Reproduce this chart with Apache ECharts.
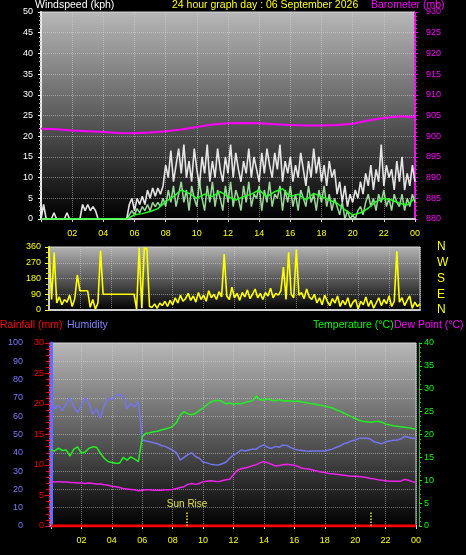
<!DOCTYPE html>
<html><head><meta charset="utf-8">
<script src="https://cdn.jsdelivr.net/npm/echarts@6/dist/echarts.min.js"></script>
<style>html,body{margin:0;padding:0;background:#000;}#c{width:466px;height:555px;}</style>
</head><body><div id="c"></div><script>
// ---- Data ----
const hourLabels = ['', '02','04','06','08','10','12','14','16','18','20','22','00'];
const titleText = '24 hour graph day : 06 September 2026';
// Wind gust (kph), 10-minute samples 00:00..24:00
const windGust = [
 0,3.5,0,0,0,1.5, 0,0,0,0,1.5,0, 0,0,0,0,3.5,2, 3.5,2,3,2,0,0, 0,0,0,0,0,0, 0,0,0,0,
 3.5,5,2,5,3.5,5.5,3.5,7,5,7.5,5.5,7.5,6,8,
 13,10,16.5,9,13,17, 11,18,10,14,9,17, 12,8,15,11,18,9, 14,10,17,12,9,15,
 11,18,10,16,12,9, 14,11,17,10,15,12, 9,16,11,17,13,10, 16,12,18,9,14,11,
 15,9,13,10,16,12, 8,14,10,17,11,15, 9,13,8,14,10,12,
 6,9,4,8,3,6, 4,7,5,9,6,11, 8,13,7,12,9,18, 8,13,10,12,7,14, 9,15,7,11,8,13, 9
];
// Wind speed (kph), 10-minute samples
const windSpeed = [
 0,0,0,0,0,0, 0,0,0,0,0,0, 0,0,0,0,0,0, 0,0,0,0,0,0, 0,0,0,0,0,0, 0,0,0,0,
 1,2,1,2.5,1.5,3,2,3.5,2,4,3,4,3,5,
 3,7,4,8,3,6, 9,4,7,2,8,5, 3,9,5,2,8,4, 9,3,7,5,2,8,
 4,9,3,7,5,2, 8,4,9,3,6,5, 8,2,7,4,9,3, 6,5,8,2,7,4,
 8,3,6,2,7,5, 3,8,4,6,2,7, 4,8,3,6,2,5,
 3,1,4,0,2,0, 1,0,2,3,1,4, 6,3,5,2,6,4, 7,3,5,2,6,4, 3,6,2,5,3,6, 4
];
// Average wind speed (kph), half-hourly
const windAvg = [
 0,0,0,0,0,0,0,0,0,0,0,0,
 1.0,1.3,1.8,2.5,4.2,5.4,7.0,6.2,5,6,5.4,6.6,5.4,4.6,5.4,6,7.0,5.4,6.6,7.3,
 5.4,6,4.6,6.2,5.4,4.6,3.8,2.2,1.0,1.5,2.6,4.2,5,4.6,3.8,3.4,5
];
// Barometer (mb), hourly
const barometer = [901.8,901.7,901.4,901.2,901.0,900.8,900.7,900.9,901.2,901.6,902.2,902.8,903.1,
 903.2,903.1,902.9,902.7,902.6,902.6,902.7,903.0,903.8,904.4,904.8,904.6];
// Wind direction (deg), 10-minute samples
const windDir = [
 355,60,330,40,75,30, 60,45,85,20,65,200, 110,110,110,110,15,60, 5,40,340,90,90,90,
 90,90,90,90,90,90, 90,90,90,90,5,355, 10,355,350,20,15,35, 10,40,25,50,20,55,
 30,70,40,85,50,65, 95,55,80,45,100,60, 85,50,110,70,90,60, 105,75,320,80,60,130,
 70,95,55,100,75,115, 65,90,120,70,95,60, 100,80,125,70,95,85, 110,245,60,330,90,70,
 345,85,100,65,120,75, 60,90,40,70,30,85, 50,25,65,40,80,20, 55,30,70,15,45,60,
 5,50,30,75,20,55, 10,40,70,25,60,35, 80,20,50,335,45,70, 25,55,80,10,45,20, 35
];
const dirLetters = {0:'N', 90:'E', 180:'S', 270:'W', 360:'N'};
// Humidity (%), 15-minute samples
const humidity = [
 69,64,66,63,67,70,65,62,66,70,67,61,64,59,66,70,69,71,72,71,64,67,65,68,
 47,46.5,46,45.5,45,44,43.5,42.5,41.5,40,36,37.5,39,40,38,37,35,34.5,33.8,33.5,33.3,34,34.8,37,
 38.8,40,41.5,41,41.5,42,42,43.5,44.3,43,42.4,43.5,43,44.3,44,43,42,41.5,41.3,41,40.8,41,41,41,
 41,41.5,42,43,43.7,45,45.5,46.5,47,47.9,48,48,47.5,46,45.5,45,46,46.5,46.8,47,47.5,49,48.5,48,48
];
// Temperature (°C), 15-minute samples
const temperature = [
 16.6,16.4,17.0,16.5,16.6,15.3,16.8,17.3,15.9,16.2,17.0,17.3,17.2,15.9,14.8,14.1,13.9,13.7,13.7,15.0,14.4,15.1,14.6,14.1,
 19.5,20.3,20.4,20.6,20.7,21.0,21.2,21.4,21.8,22.6,24.3,25,24.5,24.3,24.6,25.2,25.8,26.5,27.1,27.4,27.5,27.2,26.7,26.9,
 26.6,26.8,26.7,27.0,27.2,27.4,28.4,27.6,27.5,27.8,27.5,27.4,27.6,27.3,27.4,27.3,27.2,27.3,27.1,27.0,26.8,26.7,26.5,26.4,
 26.2,26.0,25.8,25.4,25.1,24.7,24.3,23.9,23.5,23.1,22.9,22.8,22.7,22.8,22.9,22.7,22.3,22.1,21.9,21.8,21.7,21.6,21.5,21.3,21.2
];
// Dew point (°C), 15-minute samples
const dewPoint = [
 9.7,9.6,9.7,9.6,9.6,9.5,9.5,9.4,9.4,9.3,9.4,9.3,9.2,9.2,9.0,8.9,8.7,8.6,8.4,8.2,8.1,8.0,7.9,7.7,
 7.8,7.9,7.9,7.8,7.8,7.8,7.9,7.9,8.0,8.2,8.4,8.6,9.1,9.3,9.1,9.3,9.7,9.8,9.9,9.8,9.7,9.9,10.1,10.2,
 11.2,12.2,12.5,12.7,12.9,13.2,13.4,13.8,14.1,13.8,13.5,13.1,13.2,13.4,13.5,13.4,13.3,13.0,12.6,12.5,12.4,12.2,12.0,11.8,
 11.7,11.5,11.4,11.3,11.2,11.1,11.0,10.9,10.9,10.8,10.7,10.6,10.4,10.3,10.1,10.0,9.9,9.8,9.8,9.8,9.8,10.2,10.0,9.7,9.5
];
// Rainfall (mm), hourly
const rainfall = [0,0,0,0,0,0,0,0,0,0,0,0,0,0,0,0,0,0,0,0,0,0,0,0,0];
// Sun events (hour of day)
const sunEvents = [{name:'Sun Rise', hour:8.95}, {name:'', hour:21.05}];

// ---- Chart ----
const FONT = 'Liberation Sans, Arial, sans-serif';
const TFONT = '10.5px ' + FONT;
function pairs(vals){ const step = 24/(vals.length-1); return vals.map((v,i)=>[i*step, v]); }
function bg(top){ return new echarts.graphic.LinearGradient(0,0,0,1,[{offset:0,color:top},{offset:1,color:'#000'}]); }
const split = {show:true, lineStyle:{color:'rgba(215,215,215,0.5)', type:'dotted', width:1}};
const chart = echarts.init(document.getElementById('c'), null, {renderer:'canvas'});

function yAx(o){
  return Object.assign({type:'value', axisLabel:{fontSize:9, fontFamily:FONT}, splitLine:{show:false}}, o);
}
function lineS(name, x, y, data, color, w, extra){
  return Object.assign({name, type:'line', xAxisIndex:x, yAxisIndex:y, data, showSymbol:false, symbol:'none',
    lineStyle:{color, width:w}, itemStyle:{color}}, extra||{});
}

const option = {
  animation:false,
  backgroundColor:'#000',
  graphic:[
    {type:'text', left:35, top:0, style:{text:'Windspeed (kph)', fill:'#ffffff', font:TFONT}},
    {type:'text', left:172, top:0, style:{text:titleText, fill:'#ffff00', font:TFONT}},
    {type:'text', left:371, top:0, style:{text:'Barometer (mb)', fill:'#ff00ff', font:TFONT}},
    {type:'text', left:0, top:320, style:{text:'Rainfall (mm)', fill:'#ff0000', font:TFONT}},
    {type:'text', left:67, top:320, style:{text:'Humidity', fill:'#8080ff', font:TFONT}},
    {type:'text', left:313, top:320, style:{text:'Temperature (°C)', fill:'#00ff00', font:TFONT}},
    {type:'text', left:394, top:320, style:{text:'Dew Point (°C)', fill:'#ff00ff', font:TFONT}}
  ],
  grid:[
    {left:41, right:51, top:12, height:207, show:true, backgroundColor:bg('#b8b8b8'), borderColor:'#d0d0d0', borderWidth:1},
    {left:49, right:46, top:247, height:63, show:true, backgroundColor:bg('#b4b4b4'), borderColor:'#d0d0d0', borderWidth:1},
    {left:51, right:50, top:343, height:183, show:true, backgroundColor:bg('#b8b8b8'), borderColor:'#d0d0d0', borderWidth:1}
  ],
  xAxis:[0,1,2].map(i => ({
    type:'value', gridIndex:i, min:0, max:24, interval:2,
    axisLine:{show:true, onZero:false, lineStyle:{color:'#d0d0d0', width:2}},
    axisTick:{show:i!==1, length:3, lineStyle:{color:'#d0d0d0'}},
    axisLabel:{show:i!==1, color:'#ffff00', fontSize:9, fontFamily:FONT, margin:i===0?10:10,
      formatter: v => hourLabels[Math.round(v/2)]},
    splitLine:split
  })),
  yAxis:[
    yAx({gridIndex:0, position:'left', min:0, max:50, interval:5,
      axisLine:{show:true, lineStyle:{color:'#e8e8e8', width:2}},
      axisTick:{show:true, length:3, lineStyle:{color:'#ffffff'}},
      minorTick:{show:true, splitNumber:5, length:2, lineStyle:{color:'#bbbbbb'}},
      axisLabel:{color:'#ffffff', fontSize:9, fontFamily:FONT, margin:8},
      splitLine:split}),
    yAx({gridIndex:0, position:'right', min:880, max:930, interval:5,
      axisLine:{show:true, lineStyle:{color:'#ff00ff', type:'dotted', width:2}},
      axisTick:{show:true, length:3, lineStyle:{color:'#ff00ff'}},
      minorTick:{show:true, splitNumber:5, length:2, lineStyle:{color:'#ff00ff'}},
      axisLabel:{color:'#ff00ff', fontSize:9, fontFamily:FONT, margin:11}}),
    yAx({gridIndex:1, position:'left', min:0, max:360, interval:90,
      axisLine:{show:true, lineStyle:{color:'#d0d0d0', width:2}},
      axisTick:{show:true, length:4, lineStyle:{color:'#ffff00'}},
      minorTick:{show:true, splitNumber:3, length:3, lineStyle:{color:'#cccc00'}},
      axisLabel:{color:'#ffff00', fontSize:9, fontFamily:FONT, margin:8},
      splitLine:split}),
    yAx({gridIndex:1, position:'right', min:0, max:360, interval:90,
      axisLine:{show:false}, axisTick:{show:false},
      axisLabel:{color:'#ffff00', fontSize:12, fontFamily:FONT, margin:17, formatter: v => dirLetters[v]}}),
    yAx({gridIndex:2, position:'left', offset:21, min:0, max:100, interval:10,
      axisLine:{show:true, lineStyle:{color:'#6a6aff', width:3}},
      axisTick:{show:true, length:3, lineStyle:{color:'#6a6aff'}},
      minorTick:{show:true, splitNumber:5, length:2, lineStyle:{color:'#6a6aff'}},
      axisLabel:{color:'#7878ff', fontSize:9, fontFamily:FONT, margin:7},
      splitLine:split}),
    yAx({gridIndex:2, position:'left', offset:2, min:0, max:30, interval:5,
      axisLine:{show:true, lineStyle:{color:'#ff0000', width:1}},
      axisTick:{show:true, length:4, lineStyle:{color:'#ff0000'}},
      minorTick:{show:true, splitNumber:5, length:3, lineStyle:{color:'#ff0000'}},
      axisLabel:{color:'#ff0000', fontSize:9, fontFamily:FONT, margin:5}}),
    yAx({gridIndex:2, position:'right', offset:3, min:0, max:40, interval:5,
      axisLine:{show:true, lineStyle:{color:'#00dd00', width:1}},
      axisTick:{show:true, length:3, lineStyle:{color:'#00ff00'}},
      minorTick:{show:true, splitNumber:5, length:2, lineStyle:{color:'#00cc00'}},
      axisLabel:{color:'#00ff00', fontSize:9, fontFamily:FONT, margin:5}})
  ],
  series:[
    lineS('Gust', 0, 0, pairs(windGust), 'rgba(245,245,245,0.92)', 1.6),
    lineS('Speed', 0, 0, pairs(windSpeed), 'rgba(180,250,180,0.85)', 1.5),
    lineS('Average', 0, 0, pairs(windAvg), '#22ff22', 1.5),
    lineS('Barometer', 0, 1, pairs(barometer), '#ff00ff', 2),
    lineS('Direction', 1, 2, pairs(windDir), '#ffff00', 1.6),
    lineS('Rainfall', 2, 5, pairs(rainfall), '#ff0000', 3),
    lineS('Humidity', 2, 4, pairs(humidity), '#7474ee', 1.5),
    lineS('Dew Point', 2, 6, pairs(dewPoint), '#ee22ee', 1.5),
    lineS('Temperature', 2, 6, pairs(temperature), '#22ee22', 1.5),
    lineS('Sun', 2, 6, [], '#e0e040', 1, {
      markLine:{silent:true, symbol:'none', animation:false,
        lineStyle:{color:'#e8e840', type:'dotted', width:1.5},
        label:{show:true, position:'end', distance:2, color:'#e0e040', fontSize:10, fontFamily:FONT, formatter: p => p.data.name || ''},
        data: sunEvents.map(s => [{name:s.name, coord:[s.hour, 0]}, {coord:[s.hour, 3.3]}])
      }})
  ]
};
chart.setOption(option);
</script></body></html>
